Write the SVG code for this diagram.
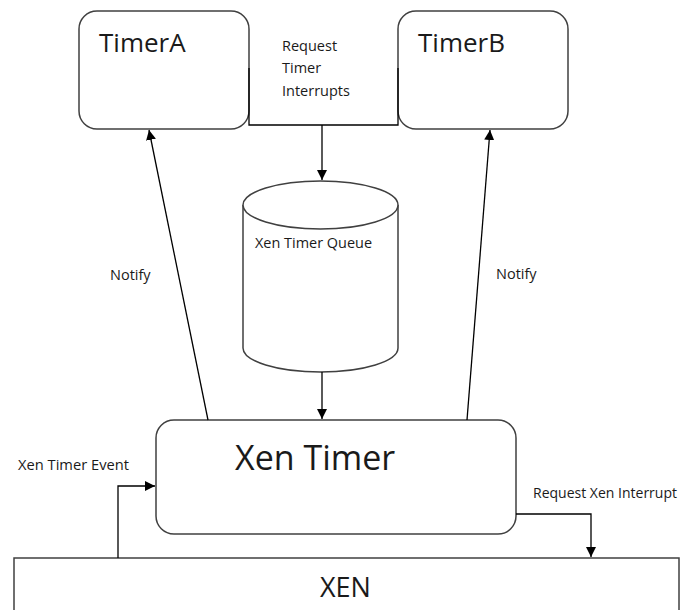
<svg xmlns="http://www.w3.org/2000/svg" width="688" height="610" viewBox="0 0 688 610">
<style>
.box{fill:#fff;stroke:#404040;stroke-width:1.5}
.conn{fill:none;stroke:#000;stroke-width:1.3}
.t{font-family:"Open Sans","Liberation Sans",Arial,sans-serif;fill:#1a1a1a}
.s{font-size:14.5px}
</style>
<defs>
<marker id="ah" viewBox="0 0 10 10" refX="10" refY="5" markerWidth="10" markerHeight="10" markerUnits="userSpaceOnUse" orient="auto">
<path d="M0,0 L10,5 L0,10 z" fill="#000"/>
</marker>
</defs>
<rect width="688" height="610" fill="#fff"/>
<g id="xen">
<rect class="box" x="14" y="558" width="665" height="60"/>
<text class="t" x="320" y="597" font-size="27">XEN</text>
</g>
<g id="timerA">
<rect class="box" x="79" y="11" width="170" height="118" rx="18"/>
<text class="t" x="99" y="52" font-size="26">TimerA</text>
</g>
<g id="timerB">
<rect class="box" x="398" y="11" width="170" height="118" rx="18"/>
<text class="t" x="418" y="52" font-size="26">TimerB</text>
</g>
<g id="queue">
<path class="box" d="M243,205 L243,348 A77.5,24 0 0 0 398,348 L398,205"/>
<ellipse class="box" cx="320.5" cy="205" rx="77.5" ry="24"/>
<text class="t s" x="255" y="248" textLength="117" lengthAdjust="spacingAndGlyphs">Xen Timer Queue</text>
</g>
<g id="xenTimer">
<rect class="box" x="156" y="420" width="360" height="114" rx="18"/>
<text class="t" x="235" y="470" font-size="34">Xen Timer</text>
</g>
<g id="connectors">
<path class="conn" d="M249,68 L249,125 L398,125 L398,68"/>
<path class="conn" d="M322,125 L322,180" marker-end="url(#ah)"/>
<path class="conn" d="M322,372 L322,419" marker-end="url(#ah)"/>
<path class="conn" d="M208,420 L149,130" marker-end="url(#ah)"/>
<path class="conn" d="M467,420 L490,130" marker-end="url(#ah)"/>
<path class="conn" d="M118,558 L118,486 L155,486" marker-end="url(#ah)"/>
<path class="conn" d="M516,514 L591,514 L591,557" marker-end="url(#ah)"/>
</g>
<g id="labels">
<text class="t s" x="282" y="51">Request</text>
<text class="t s" x="282" y="73">Timer</text>
<text class="t s" x="282" y="96">Interrupts</text>
<text class="t s" x="110" y="280">Notify</text>
<text class="t s" x="496" y="279">Notify</text>
<text class="t s" x="18" y="470" textLength="111" lengthAdjust="spacingAndGlyphs">Xen Timer Event</text>
<text class="t s" x="533" y="498" textLength="144" lengthAdjust="spacingAndGlyphs">Request Xen Interrupt</text>
</g>
</svg>
